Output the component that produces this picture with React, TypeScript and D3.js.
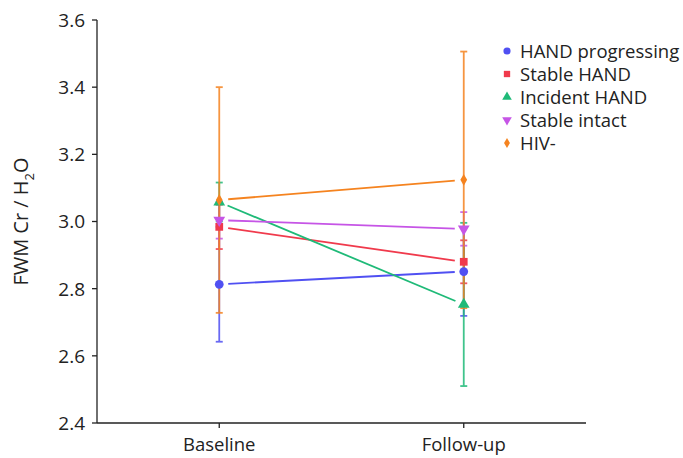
import React from "react";
import * as d3 from "d3";

const timepoints = ["Baseline", "Follow-up"];
const seriesNames = ["HAND progressing", "Stable HAND", "Incident HAND", "Stable intact", "HIV-"];
const seriesColors = ["#5050f2", "#f03a4c", "#1fba78", "#c655e6", "#f5831f"];
const seriesShapes = ["circle", "square", "triangle", "triangleDown", "diamond"];
const meanBaseline = [2.813, 2.984, 3.058, 3.004, 3.064];
const meanFollowup = [2.851, 2.880, 2.753, 2.978, 3.124];
const errBaseline = [0.171, 0.066, 0.058, 0.055, 0.336];
const errFollowup = [0.132, 0.064, 0.243, 0.05, 0.382];
const yTicks = [2.4, 2.6, 2.8, 3.0, 3.2, 3.4, 3.6];

const W = 683, H = 458;
const FONT = "'Open Sans', 'Noto Sans', sans-serif";

function symbolPath(shape: string, size: number) {
  const map: Record<string, any> = {
    circle: d3.symbolCircle,
    square: d3.symbolSquare,
    triangle: d3.symbolTriangle,
    triangleDown: d3.symbolTriangle,
    diamond: d3.symbolDiamond,
  };
  return d3.symbol(map[shape], size)() || "";
}

export default function App() {
  const x = d3.scalePoint<string>().domain(timepoints).range([97, 586]).padding(0.5);
  const y = d3.scaleLinear().domain([2.4, 3.6]).range([423, 20]);
  const means = [meanBaseline, meanFollowup];
  const errs = [errBaseline, errFollowup];
  const inset = 9;

  return (
    <svg width={W} height={H} style={{ position: "absolute", left: 0, top: 0, background: "#fff" }}>
      {/* axes */}
      <line x1={97} x2={97} y1={y(3.6)} y2={y(2.4)} stroke="#222" strokeWidth={1.3} />
      <line x1={97} x2={586} y1={y(2.4)} y2={y(2.4)} stroke="#222" strokeWidth={1.3} />
      {yTicks.map((t) => (
        <g key={t}>
          <line x1={92} x2={97} y1={y(t)} y2={y(t)} stroke="#222" strokeWidth={1.3} />
          <text x={85} y={y(t)} dy="0.36em" textAnchor="end" fontFamily={FONT} fontSize={19} fill="#222">
            {t.toFixed(1)}
          </text>
        </g>
      ))}
      {timepoints.map((tp) => (
        <g key={tp}>
          <line x1={x(tp)!} x2={x(tp)!} y1={y(2.4)} y2={y(2.4) + 5} stroke="#222" strokeWidth={1.3} />
          <text x={x(tp)!} y={451} textAnchor="middle" fontFamily={FONT} fontSize={18.5} fill="#222">
            {tp}
          </text>
        </g>
      ))}
      <text
        transform={`translate(28, ${y(3.0)}) rotate(-90)`}
        textAnchor="middle"
        fontFamily={FONT}
        fontSize={20}
        fill="#222"
      >
        FWM Cr / H<tspan fontSize={13} dy={6}>2</tspan><tspan dy={-6}>O</tspan>
      </text>

      {/* error bars */}
      {seriesNames.map((s, i) =>
        timepoints.map((tp, j) => {
          const cx = x(tp)!;
          const m = means[j][i];
          const e = errs[j][i];
          return (
            <g key={s + tp} stroke={seriesColors[i]} strokeWidth={1.8} opacity={0.85}>
              <line x1={cx} x2={cx} y1={y(m - e)} y2={y(m + e)} />
              <line x1={cx - 3.5} x2={cx + 3.5} y1={y(m - e)} y2={y(m - e)} />
              <line x1={cx - 3.5} x2={cx + 3.5} y1={y(m + e)} y2={y(m + e)} />
            </g>
          );
        })
      )}

      {/* connecting lines */}
      {seriesNames.map((s, i) => {
        const x0 = x(timepoints[0])!, x1 = x(timepoints[1])!;
        const y0 = y(meanBaseline[i]), y1 = y(meanFollowup[i]);
        const dx = x1 - x0, dy = y1 - y0;
        const len = Math.sqrt(dx * dx + dy * dy);
        const ux = dx / len, uy = dy / len;
        return (
          <line
            key={s}
            x1={x0 + ux * inset}
            y1={y0 + uy * inset}
            x2={x1 - ux * inset}
            y2={y1 - uy * inset}
            stroke={seriesColors[i]}
            strokeWidth={1.8}
          />
        );
      })}

      {/* markers */}
      {seriesNames.map((s, i) =>
        timepoints.map((tp, j) => {
          const cx = x(tp)!;
          const cy = y(means[j][i]);
          const shape = seriesShapes[i];
          const rot = shape === "triangleDown" ? 180 : 0;
          return (
            <path
              key={s + tp}
              d={symbolPath(shape, shape === "diamond" ? 40 : 60)}
              transform={`translate(${cx},${cy}) rotate(${rot})`}
              fill={seriesColors[i]}
            />
          );
        })
      )}

      {/* legend */}
      {seriesNames.map((s, i) => {
        const ly = 51 + i * 23;
        const shape = seriesShapes[i];
        const rot = shape === "triangleDown" ? 180 : 0;
        return (
          <g key={s}>
            <path
              d={symbolPath(shape, shape === "diamond" ? 30 : 40)}
              transform={`translate(507,${ly}) rotate(${rot})`}
              fill={seriesColors[i]}
            />
            <text x={520} y={ly} dy="0.36em" fontFamily={FONT} fontSize={18.5} fill="#222">
              {s}
            </text>
          </g>
        );
      })}
    </svg>
  );
}
